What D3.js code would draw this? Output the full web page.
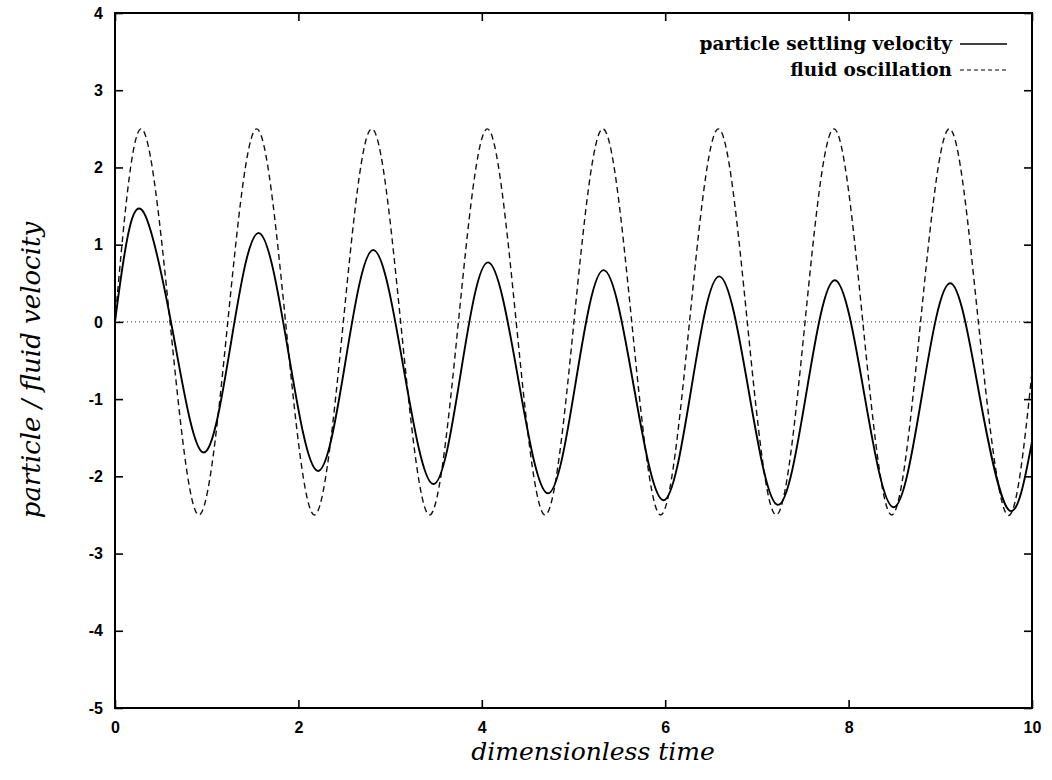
<!DOCTYPE html>
<html>
<head>
<meta charset="utf-8">
<script src="https://cdn.jsdelivr.net/npm/d3@7"></script>
<style>
  body { margin: 0; background: #fff; }
  .tick text { font-family: "Liberation Sans", Arial, sans-serif; font-weight: bold; font-size: 16px; fill: #000; }
</style>
</head>
<body>
<div id="grafico"></div>
<script>
// fluid oscillation: peaks, troughs and zero crossings
var fluidT = [0, 0.285, 0.60, 0.915, 1.23, 1.545, 1.86, 2.175, 2.49, 2.80, 3.115, 3.43,
              3.745, 4.06, 4.375, 4.69, 5.005, 5.32, 5.635, 5.95, 6.265, 6.58, 6.895, 7.21,
              7.525, 7.84, 8.155, 8.47, 8.785, 9.10, 9.415, 9.73, 10.0];
var fluidV = [0, 2.5, 0, -2.5, 0, 2.5, 0, -2.5, 0, 2.5, 0, -2.5,
              0, 2.5, 0, -2.5, 0, 2.5, 0, -2.5, 0, 2.5, 0, -2.5,
              0, 2.5, 0, -2.5, 0, 2.5, 0, -2.5, -0.65];

// particle settling velocity: start, peaks, troughs and midway points
var particleT = [0, 0.10, 0.30, 0.63, 0.96, 1.265, 1.57, 1.89, 2.21, 2.515, 2.82, 3.145,
                 3.47, 3.77, 4.07, 4.395, 4.72, 5.025, 5.33, 5.655, 5.98, 6.285, 6.59, 6.91,
                 7.23, 7.54, 7.85, 8.17, 8.49, 8.80, 9.11, 9.43, 9.75, 10.0];
var particleV = [0, 0.85, 1.44, -0.125, -1.69, -0.27, 1.15, -0.39, -1.93, -0.50, 0.93, -0.585,
                 -2.10, -0.665, 0.77, -0.725, -2.22, -0.775, 0.67, -0.82, -2.31, -0.86, 0.59, -0.89,
                 -2.37, -0.915, 0.54, -0.93, -2.40, -0.95, 0.50, -0.97, -2.44, -1.55];

var xTicks = [0, 2, 4, 6, 8, 10];
var yTicks = [-5, -4, -3, -2, -1, 0, 1, 2, 3, 4];
var legendNames = ["particle settling velocity", "fluid oscillation"];

var W = 1052, H = 780;
var margin = {top: 13, right: 20, bottom: 72, left: 115};
var width = W - margin.left - margin.right,
    height = H - margin.top - margin.bottom;

var svg = d3.select("#grafico")
  .append("svg")
    .attr("width", W)
    .attr("height", H)
  .append("g")
    .attr("transform", "translate(" + margin.left + "," + margin.top + ")");

var x = d3.scaleLinear().domain([0, 10]).range([0, width]);
var y = d3.scaleLinear().domain([-5, 4]).range([height, 0]);

var fmt = function(d) { return String(d); }; // plain hyphen minus like the original

// zero line
svg.append("line")
  .attr("x1", x(0)).attr("x2", x(10))
  .attr("y1", y(0)).attr("y2", y(0))
  .attr("stroke", "#333")
  .attr("stroke-width", 1)
  .attr("stroke-dasharray", "1,3");

// axes with inward ticks
svg.append("g")
  .attr("transform", "translate(0," + height + ")")
  .call(d3.axisBottom(x).tickValues(xTicks).tickSize(-8).tickPadding(14).tickFormat(fmt));
svg.append("g")
  .call(d3.axisTop(x).tickValues(xTicks).tickSize(-8).tickFormat(""));
svg.append("g")
  .call(d3.axisLeft(y).tickValues(yTicks).tickSize(-8).tickPadding(12).tickFormat(fmt));
svg.append("g")
  .attr("transform", "translate(" + width + ",0)")
  .call(d3.axisRight(y).tickValues(yTicks).tickSize(-8).tickFormat(""));

svg.selectAll(".domain").remove();
svg.selectAll(".tick line").attr("stroke", "#000").attr("stroke-width", 1.6);

// frame
svg.append("rect")
  .attr("width", width).attr("height", height)
  .attr("fill", "none")
  .attr("stroke", "#000")
  .attr("stroke-width", 2);

var fluid = fluidT.map(function(t, i) { return {t: t, v: fluidV[i]}; });
var particle = particleT.map(function(t, i) { return {t: t, v: particleV[i]}; });

var line = d3.line()
  .x(function(d) { return x(d.t); })
  .y(function(d) { return y(d.v); })
  .curve(d3.curveNatural);

svg.append("path")
  .datum(fluid)
  .attr("fill", "none")
  .attr("stroke", "#111")
  .attr("stroke-width", 1.4)
  .attr("stroke-dasharray", "6,4")
  .attr("d", line);

svg.append("path")
  .datum(particle)
  .attr("fill", "none")
  .attr("stroke", "#000")
  .attr("stroke-width", 1.9)
  .attr("d", line);

// legend
var legLineY = [44, 70], legTextY = [50, 76];
legendNames.forEach(function(name, i) {
  svg.append("text")
    .attr("x", 952 - margin.left)
    .attr("y", legTextY[i] - margin.top)
    .attr("text-anchor", "end")
    .attr("font-family", "'DejaVu Serif', serif")
    .attr("font-weight", "bold")
    .attr("font-size", 18.5)
    .text(name);
  svg.append("line")
    .attr("x1", 960 - margin.left).attr("x2", 1007 - margin.left)
    .attr("y1", legLineY[i] - margin.top).attr("y2", legLineY[i] - margin.top)
    .attr("stroke", "#000")
    .attr("stroke-width", i === 0 ? 1.4 : 1.2)
    .attr("stroke-dasharray", i === 0 ? null : "4,3");
});

// axis titles
svg.append("text")
  .attr("x", 593 - margin.left)
  .attr("y", 760 - margin.top)
  .attr("text-anchor", "middle")
  .attr("font-family", "'DejaVu Serif', serif")
  .attr("font-style", "italic")
  .attr("font-size", 25)
  .text("dimensionless time");

svg.append("text")
  .attr("transform", "translate(" + (40 - margin.left) + "," + (370 - margin.top) + ") rotate(-90)")
  .attr("text-anchor", "middle")
  .attr("font-family", "'DejaVu Serif', serif")
  .attr("font-style", "italic")
  .attr("font-size", 26)
  .text("particle / fluid velocity");
</script>
</body>
</html>
